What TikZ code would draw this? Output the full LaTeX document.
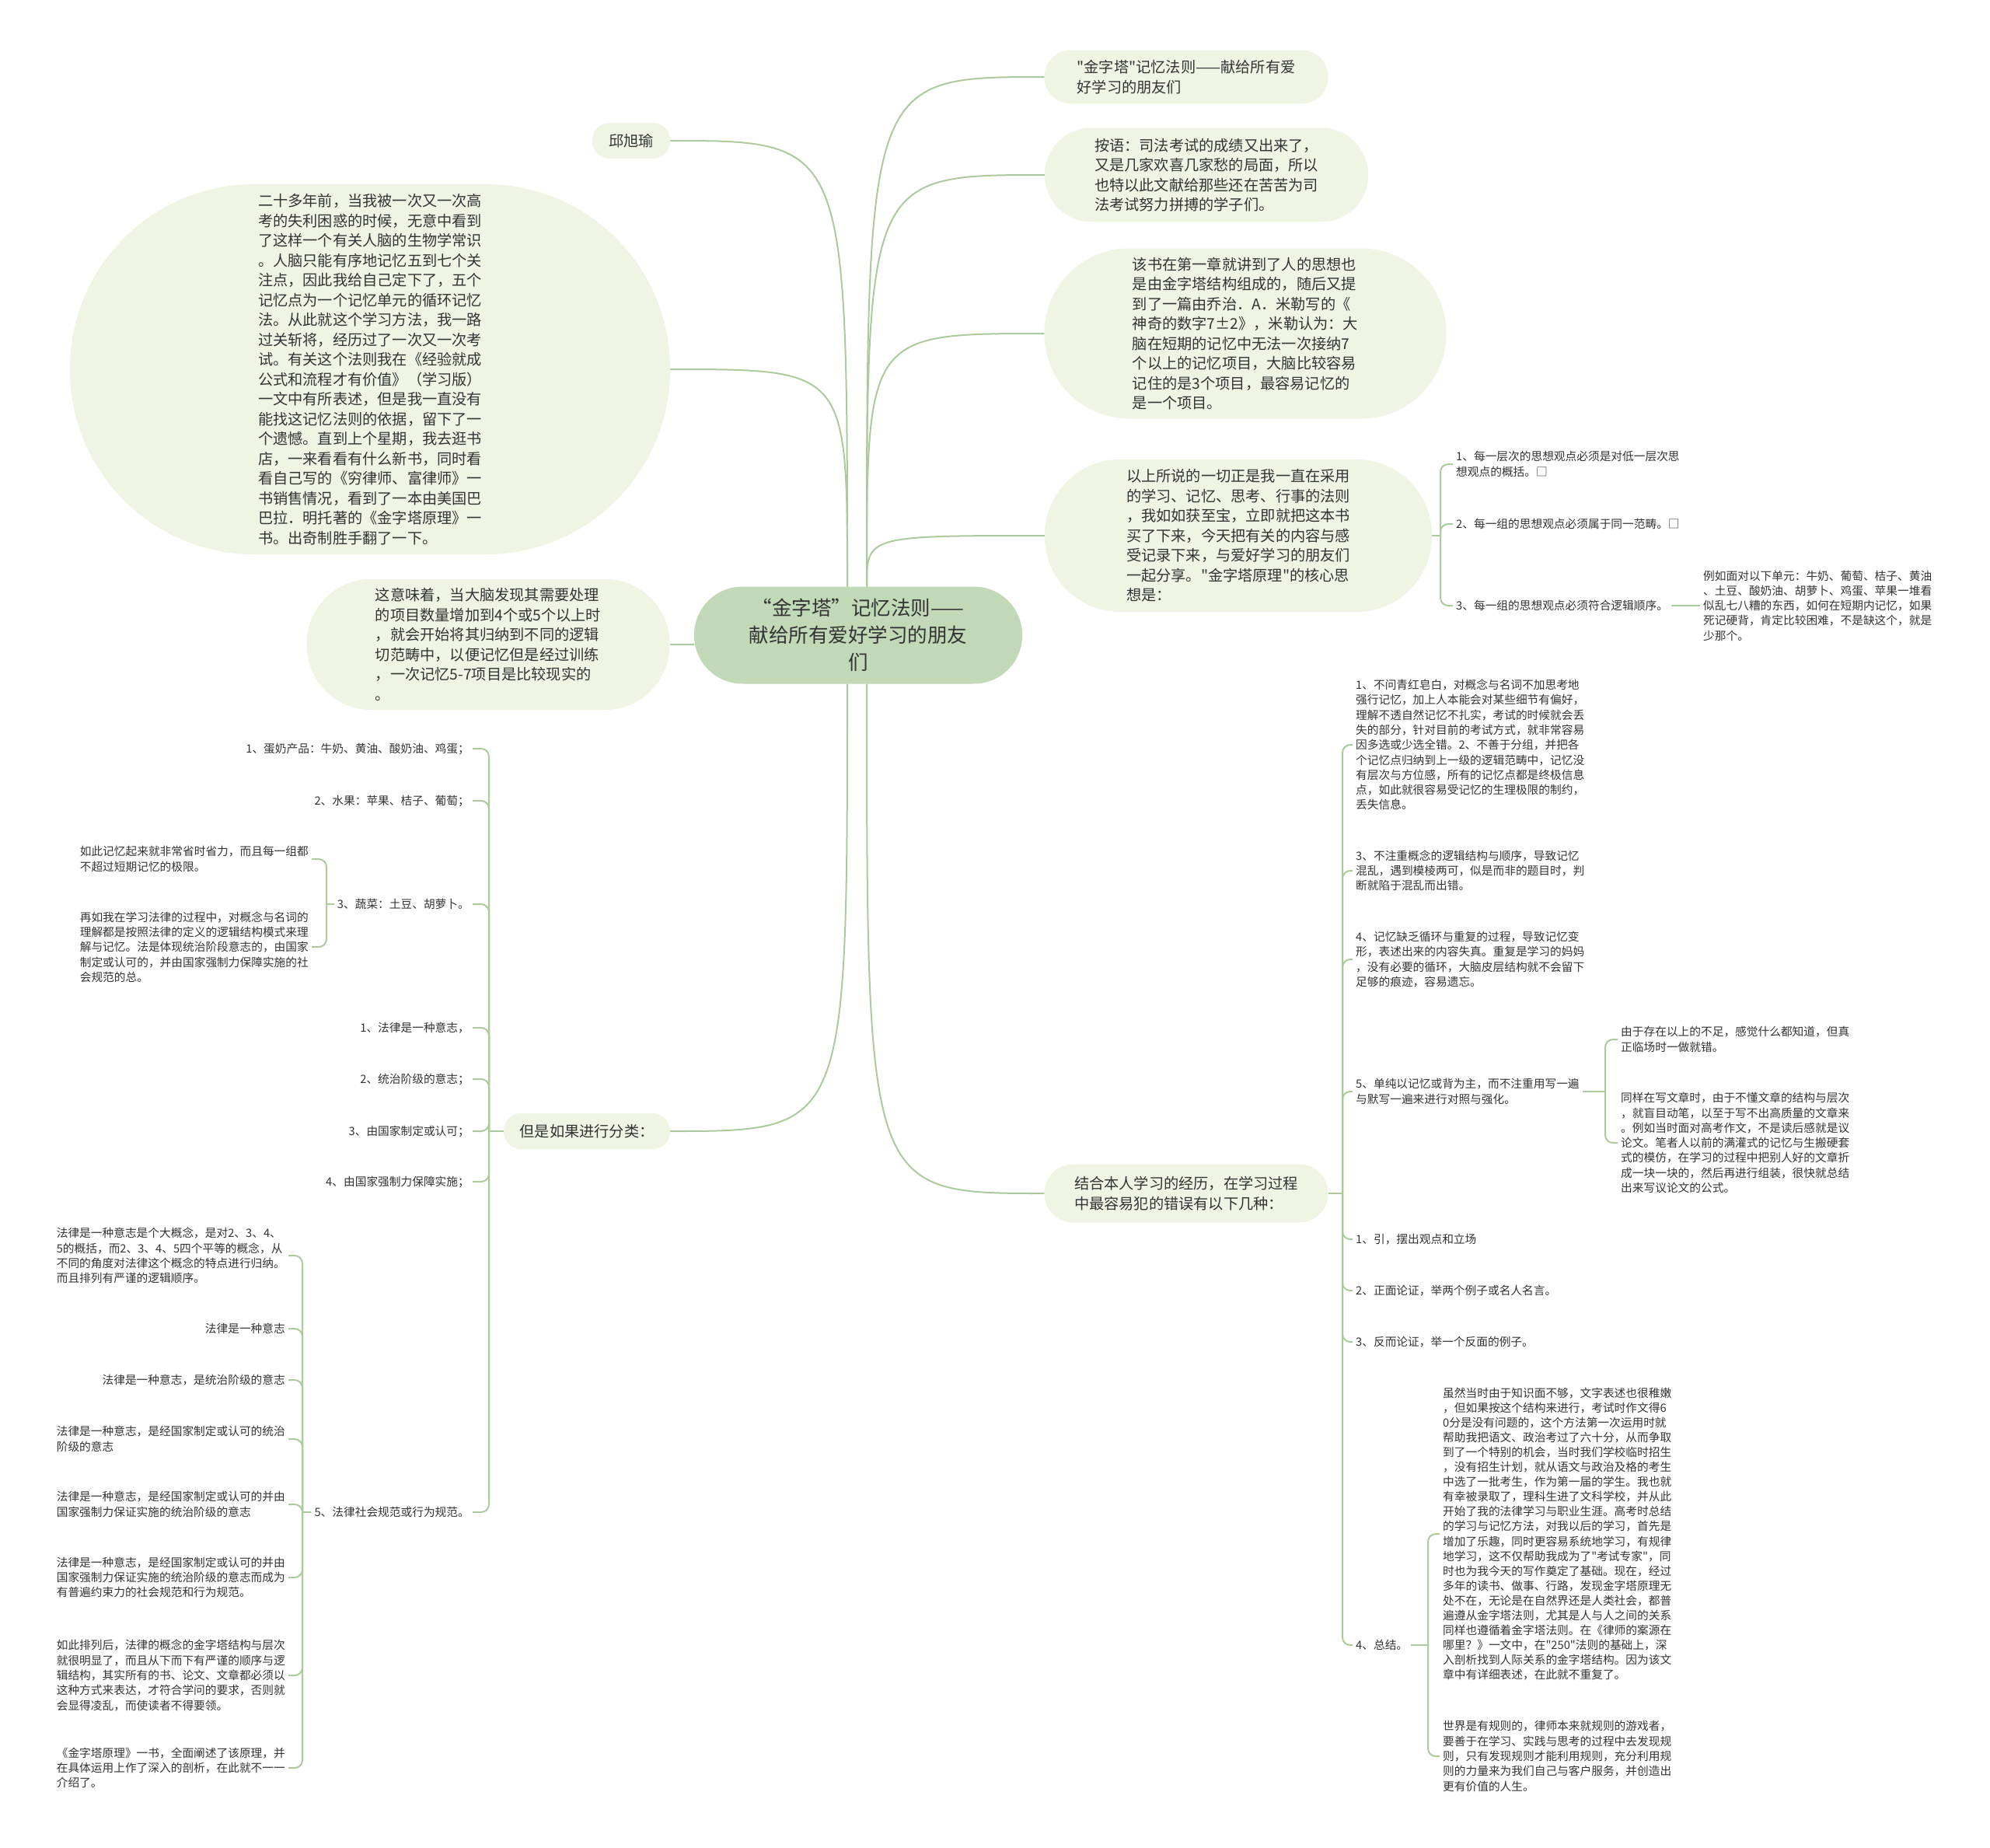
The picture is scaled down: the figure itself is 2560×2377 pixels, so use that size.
\documentclass[tikz,border=0pt]{standalone}
\usepackage{fontspec}
\setmainfont{Noto Sans CJK SC}[Ligatures=TeXOff]
\definecolor{linegreen}{RGB}{172,203,156}
\definecolor{bubfill}{RGB}{239,244,229}
\definecolor{rootfill}{RGB}{194,217,184}
\definecolor{inkgray}{RGB}{51,51,51}
\newcommand\fsroot{\fontsize{25.5}{35}\selectfont}
\newcommand\fsbub{\fontsize{19.2}{25.5}\selectfont}
\newcommand\fsleaf{\fontsize{14.7}{19.3}\selectfont}

\begin{document}
\begin{tikzpicture}[
  x=1pt, y=-1pt,
  every node/.style={inner sep=0pt, text=inkgray},
  root/.style={fill=rootfill, align=center, font=\fsroot},
  bub/.style={fill=bubfill, align=left, font=\fsbub},
  leaf/.style={align=left, font=\fsleaf, inner sep=4pt},
  conn/.style={draw=linegreen, line width=2pt},
  elbow/.style={conn, rounded corners=10pt}]

  \fill[white] (0,0) rectangle (2560,2377);
  \useasboundingbox (0,0) rectangle (2560,2377);

  % --- centre topic ---
  \node[root, minimum width=422, minimum height=125, rounded corners=62] (root) at (1104,817)
    {“金字塔”记忆法则——\\献给所有爱好学习的朋友\\们};

  % --- first level, left side (right edges at x=862) ---
  \node[bub, minimum width=100, minimum height=46, rounded corners=22] (qiu) at (812,181) {邱旭瑜};
  \node[bub, minimum width=772, minimum height=476, rounded corners=237] (story) at (476,475)
    {二十多年前，当我被一次又一次高\\考的失利困惑的时候，无意中看到\\了这样一个有关人脑的生物学常识\\。人脑只能有序地记忆五到七个关\\注点，因此我给自己定下了，五个\\记忆点为一个记忆单元的循环记忆\\法。从此就这个学习方法，我一路\\过关斩将，经历过了一次又一次考\\试。有关这个法则我在《经验就成\\公式和流程才有价值》（学习版）\\一文中有所表述，但是我一直没有\\能找这记忆法则的依据，留下了一\\个遗憾。直到上个星期，我去逛书\\店，一来看看有什么新书，同时看\\看自己写的《穷律师、富律师》一\\书销售情况，看到了一本由美国巴\\巴拉．明托著的《金字塔原理》一\\书。出奇制胜手翻了一下。};
  \node[bub, minimum width=467, minimum height=168, rounded corners=83] (means) at (628,829)
    {这意味着，当大脑发现其需要处理\\的项目数量增加到4个或5个以上时\\，就会开始将其归纳到不同的逻辑\\切范畴中，以便记忆但是经过训练\\，一次记忆5-7项目是比较现实的\\。};
  \node[bub, minimum width=214, minimum height=46, rounded corners=22] (sort) at (755,1455) {但是如果进行分类：};

  % --- first level, right side (left edges at x=1344) ---
  \node[bub, minimum width=365, minimum height=69, rounded corners=34] (title) at (1526,99)
    {"金字塔"记忆法则——献给所有爱\\好学习的朋友们};
  \node[bub, minimum width=416, minimum height=121, rounded corners=60] (note) at (1552,225)
    {按语：司法考试的成绩又出来了，\\又是几家欢喜几家愁的局面，所以\\也特以此文献给那些还在苦苦为司\\法考试努力拼搏的学子们。};
  \node[bub, minimum width=517, minimum height=219, rounded corners=109] (book) at (1602,429)
    {该书在第一章就讲到了人的思想也\\是由金字塔结构组成的，随后又提\\到了一篇由乔治．A．米勒写的《\\神奇的数字7±2》，米勒认为：大\\脑在短期的记忆中无法一次接纳7\\个以上的记忆项目，大脑比较容易\\记住的是3个项目，最容易记忆的\\是一个项目。};
  \node[bub, minimum width=498, minimum height=196, rounded corners=97] (core) at (1593,689)
    {以上所说的一切正是我一直在采用\\的学习、记忆、思考、行事的法则\\，我如如获至宝，立即就把这本书\\买了下来，今天把有关的内容与感\\受记录下来，与爱好学习的朋友们\\一起分享。"金字塔原理"的核心思\\想是：};
  \node[bub, minimum width=365, minimum height=75, rounded corners=37] (errs) at (1526,1535)
    {结合本人学习的经历，在学习过程\\中最容易犯的错误有以下几种：};

  % --- root to first level ---
  \coordinate (rtl) at ([xshift=-14pt]root.north);
  \coordinate (rtr) at ([xshift=11pt]root.north);
  \coordinate (rbl) at ([xshift=-14pt]root.south);
  \coordinate (rbr) at ([xshift=11pt]root.south);
  \draw[conn] (rtl) .. controls (rtl |- qiu.east) .. (qiu.east);
  \draw[conn] (rtl) .. controls (rtl |- story.east) .. (story.east);
  \draw[conn] (root.west |- means.east) -- (means.east);
  \draw[conn] (rbl) .. controls (rbl |- sort.east) .. (sort.east);
  \draw[conn] (rtr) .. controls (rtr |- title.west) .. (title.west);
  \draw[conn] (rtr) .. controls (rtr |- note.west) .. (note.west);
  \draw[conn] (rtr) .. controls (rtr |- book.west) .. (book.west);
  \draw[conn] (rtr) .. controls (rtr |- core.west) .. (core.west);
  \draw[conn] (rbr) .. controls (rbr |- errs.west) .. (errs.west);

  % --- left: classification list ---
  \node[leaf, anchor=east] (a1) at (608,963) {1、蛋奶产品：牛奶、黄油、酸奶油、鸡蛋；};
  \node[leaf, anchor=east] (a2) at (608,1030) {2、水果：苹果、桔子、葡萄；};
  \node[leaf, anchor=east] (a3) at (608,1163) {3、蔬菜：土豆、胡萝卜。};
  \node[leaf, anchor=east] (a4) at (608,1322) {1、法律是一种意志，};
  \node[leaf, anchor=east] (a5) at (608,1388) {2、统治阶级的意志；};
  \node[leaf, anchor=east] (a6) at (608,1455) {3、由国家制定或认可；};
  \node[leaf, anchor=east] (a7) at (608,1520) {4、由国家强制力保障实施；};
  \node[leaf, anchor=east] (a8) at (608,1945) {5、法律社会规范或行为规范。};

  \coordinate (tA) at (629,1455);
  \draw[conn] (sort.west) -- (tA);
  \foreach \n in {a1,a2,a3,a4,a5,a6,a7,a8}
    \draw[elbow] (tA) |- (\n.east);

  % --- under 3、蔬菜 ---
  \node[leaf, anchor=east] (v1) at (401,1105)
    {如此记忆起来就非常省时省力，而且每一组都\\不超过短期记忆的极限。};
  \node[leaf, anchor=east] (v2) at (401,1218)
    {再如我在学习法律的过程中，对概念与名词的\\理解都是按照法律的定义的逻辑结构模式来理\\解与记忆。法是体现统治阶段意志的，由国家\\制定或认可的，并由国家强制力保障实施的社\\会规范的总。};
  \coordinate (tV) at (420,1163);
  \draw[conn] (a3.west) -- (tV);
  \foreach \n in {v1,v2}
    \draw[elbow] (tV) |- (\n.east);

  % --- under 5、法律社会规范 ---
  \node[leaf, anchor=east] (l1) at (371,1615)
    {法律是一种意志是个大概念，是对2、3、4、\\5的概括，而2、3、4、5四个平等的概念，从\\不同的角度对法律这个概念的特点进行归纳。\\而且排列有严谨的逻辑顺序。};
  \node[leaf, anchor=east] (l2) at (371,1709) {法律是一种意志};
  \node[leaf, anchor=east] (l3) at (371,1775) {法律是一种意志，是统治阶级的意志};
  \node[leaf, anchor=east] (l4) at (371,1851)
    {法律是一种意志，是经国家制定或认可的统治\\阶级的意志};
  \node[leaf, anchor=east] (l5) at (371,1935)
    {法律是一种意志，是经国家制定或认可的并由\\国家强制力保证实施的统治阶级的意志};
  \node[leaf, anchor=east] (l6) at (371,2029)
    {法律是一种意志，是经国家制定或认可的并由\\国家强制力保证实施的统治阶级的意志而成为\\有普遍约束力的社会规范和行为规范。};
  \node[leaf, anchor=east] (l7) at (371,2155)
    {如此排列后，法律的概念的金字塔结构与层次\\就很明显了，而且从下而下有严谨的顺序与逻\\辑结构，其实所有的书、论文、文章都必须以\\这种方式来表达，才符合学问的要求，否则就\\会显得凌乱，而使读者不得要领。};
  \node[leaf, anchor=east] (l8) at (371,2274)
    {《金字塔原理》一书，全面阐述了该原理，并\\在具体运用上作了深入的剖析，在此就不一一\\介绍了。};
  \coordinate (tL) at (389,1945);
  \draw[conn] (a8.west) -- (tL);
  \foreach \n in {l1,l2,l3,l4,l5,l6,l7,l8}
    \draw[elbow] (tL) |- (\n.east);

  % --- right: the three rules ---
  \node[leaf, anchor=west] (b1) at (1869,597)
    {1、每一层次的思想观点必须是对低一层次思\\想观点的概括。□};
  \node[leaf, anchor=west] (b2) at (1869,674) {2、每一组的思想观点必须属于同一范畴。□};
  \node[leaf, anchor=west] (b3) at (1869,779) {3、每一组的思想观点必须符合逻辑顺序。};
  \node[leaf, anchor=west] (ex) at (2187,779)
    {例如面对以下单元：牛奶、葡萄、桔子、黄油\\、土豆、酸奶油、胡萝卜、鸡蛋、苹果一堆看\\似乱七八糟的东西，如何在短期内记忆，如果\\死记硬背，肯定比较困难，不是缺这个，就是\\少那个。};
  \coordinate (tB) at (1853,689);
  \draw[conn] (core.east) -- (tB);
  \foreach \n in {b1,b2,b3}
    \draw[elbow] (tB) |- (\n.west);
  \draw[conn] (b3.east) -- (ex.west);

  % --- right: the usual mistakes ---
  \node[leaf, anchor=west] (m1) at (1740,958)
    {1、不问青红皂白，对概念与名词不加思考地\\强行记忆，加上人本能会对某些细节有偏好，\\理解不透自然记忆不扎实，考试的时候就会丢\\失的部分，针对目前的考试方式，就非常容易\\因多选或少选全错。2、不善于分组，并把各\\个记忆点归纳到上一级的逻辑范畴中，记忆没\\有层次与方位感，所有的记忆点都是终极信息\\点，如此就很容易受记忆的生理极限的制约，\\丢失信息。};
  \node[leaf, anchor=west] (m2) at (1740,1120)
    {3、不注重概念的逻辑结构与顺序，导致记忆\\混乱，遇到模棱两可，似是而非的题目时，判\\断就陷于混乱而出错。};
  \node[leaf, anchor=west] (m3) at (1740,1234)
    {4、记忆缺乏循环与重复的过程，导致记忆变\\形，表述出来的内容失真。重复是学习的妈妈\\，没有必要的循环，大脑皮层结构就不会留下\\足够的痕迹，容易遗忘。};
  \node[leaf, anchor=west] (m4) at (1740,1404)
    {5、单纯以记忆或背为主，而不注重用写一遍\\与默写一遍来进行对照与强化。};
  \node[leaf, anchor=west] (m5) at (1740,1594) {1、引，摆出观点和立场};
  \node[leaf, anchor=west] (m6) at (1740,1660) {2、正面论证，举两个例子或名人名言。};
  \node[leaf, anchor=west] (m7) at (1740,1726) {3、反而论证，举一个反面的例子。};
  \node[leaf, anchor=west] (m8) at (1740,2116) {4、总结。};
  \coordinate (tC) at (1727,1535);
  \draw[conn] (errs.east) -- (tC);
  \foreach \n in {m1,m2,m3,m4,m5,m6,m7,m8}
    \draw[elbow] (tC) |- (\n.west);

  % --- under 5、单纯以记忆 ---
  \node[leaf, anchor=west] (d1) at (2081,1337)
    {由于存在以上的不足，感觉什么都知道，但真\\正临场时一做就错。};
  \node[leaf, anchor=west] (d2) at (2081,1470)
    {同样在写文章时，由于不懂文章的结构与层次\\，就盲目动笔，以至于写不出高质量的文章来\\。例如当时面对高考作文，不是读后感就是议\\论文。笔者人以前的满灌式的记忆与生搬硬套\\式的模仿，在学习的过程中把别人好的文章折\\成一块一块的，然后再进行组装，很快就总结\\出来写议论文的公式。};
  \coordinate (tD) at (2065,1404);
  \draw[conn] (m4.east) -- (tD);
  \foreach \n in {d1,d2}
    \draw[elbow] (tD) |- (\n.west);

  % --- under 4、总结 ---
  \node[leaf, anchor=west, font=\fontsize{14.7}{19.1}\selectfont] (e1) at (1852,1973)
    {虽然当时由于知识面不够，文字表述也很稚嫩\\，但如果按这个结构来进行，考试时作文得6\\0分是没有问题的，这个方法第一次运用时就\\帮助我把语文、政治考过了六十分，从而争取\\到了一个特别的机会，当时我们学校临时招生\\，没有招生计划，就从语文与政治及格的考生\\中选了一批考生，作为第一届的学生。我也就\\有幸被录取了，理科生进了文科学校，并从此\\开始了我的法律学习与职业生涯。高考时总结\\的学习与记忆方法，对我以后的学习，首先是\\增加了乐趣，同时更容易系统地学习，有规律\\地学习，这不仅帮助我成为了"考试专家"，同\\时也为我今天的写作奠定了基础。现在，经过\\多年的读书、做事、行路，发现金字塔原理无\\处不在，无论是在自然界还是人类社会，都普\\遍遵从金字塔法则，尤其是人与人之间的关系\\同样也遵循着金字塔法则。在《律师的案源在\\哪里？》一文中，在"250"法则的基础上，深\\入剖析找到人际关系的金字塔结构。因为该文\\章中有详细表述，在此就不重复了。};
  \node[leaf, anchor=west] (e2) at (1852,2259)
    {世界是有规则的，律师本来就规则的游戏者，\\要善于在学习、实践与思考的过程中去发现规\\则，只有发现规则才能利用规则，充分利用规\\则的力量来为我们自己与客户服务，并创造出\\更有价值的人生。};
  \coordinate (tE) at (1837,2116);
  \draw[conn] (m8.east) -- (tE);
  \foreach \n in {e1,e2}
    \draw[elbow] (tE) |- (\n.west);

\end{tikzpicture}
\end{document}
